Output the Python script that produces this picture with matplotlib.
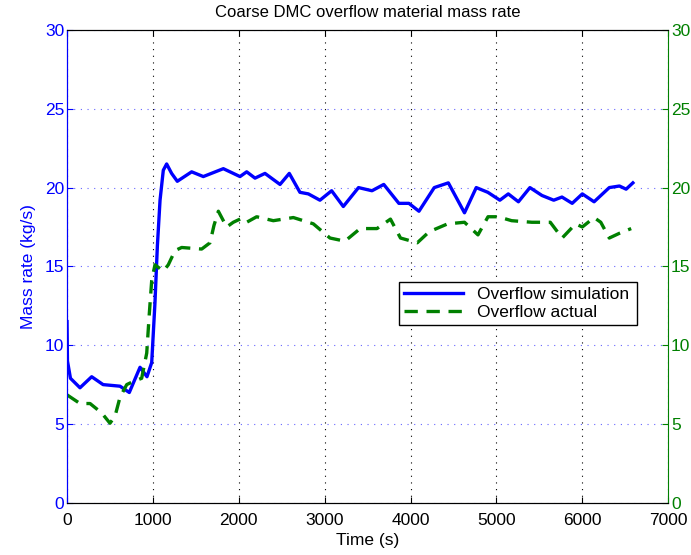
import matplotlib
matplotlib.use("Agg")
import matplotlib.pyplot as plt

plt.rcParams['font.family'] = ['Liberation Sans', 'DejaVu Sans']

# overflow simulation (time s, mass rate kg/s)
sim_t = [0, 5, 40, 151, 287, 420, 617, 725, 850, 931, 986, 1024, 1052, 1083, 1121, 1160,
         1218, 1284, 1451, 1587, 1820, 2014, 2092, 2189, 2305, 2480, 2588, 2712, 2810,
         2945, 3081, 3217, 3394, 3551, 3688, 3864, 3981, 4098, 4276, 4440, 4628, 4765,
         4900, 5040, 5138, 5256, 5390, 5530, 5667, 5763, 5882, 6000, 6137, 6314, 6432,
         6510, 6589]
sim_v = [11.5, 9.0, 7.9, 7.3, 8.0, 7.5, 7.4, 7.0, 8.6, 8.0, 8.9, 12.7, 16.3, 19.2, 21.1, 21.5,
         20.9, 20.4, 21.0, 20.7, 21.2, 20.7, 21.0, 20.6, 20.9, 20.2, 20.9, 19.7, 19.6,
         19.2, 19.8, 18.8, 20.0, 19.8, 20.2, 19.0, 19.0, 18.5, 20.0, 20.3, 18.4, 20.0,
         19.7, 19.2, 19.6, 19.1, 20.0, 19.5, 19.2, 19.4, 19.0, 19.6, 19.1, 20.0, 20.1,
         19.9, 20.3]

# overflow actual
act_t = [0, 151, 268, 404, 500, 559, 617, 695, 772, 869, 928, 958, 986, 1024, 1121, 1179,
         1257, 1335, 1568, 1665, 1711, 1762, 1859, 1936, 2034, 2092, 2208, 2402, 2635,
         2868, 3062, 3236, 3413, 3609, 3766, 3883, 4079, 4217, 4432, 4628, 4785, 4902,
         5020, 5177, 5412, 5627, 5765, 5922, 6000, 6137, 6215, 6314, 6432, 6569]
act_v = [6.85, 6.3, 6.3, 5.7, 5.05, 5.5, 6.7, 7.5, 7.7, 7.9, 9.5, 12.0, 14.1, 15.1, 14.7, 15.1,
         16.0, 16.2, 16.1, 16.5, 17.6, 18.5, 17.5, 17.8, 18.05, 17.8, 18.15, 17.9, 18.1,
         17.7, 16.8, 16.6, 17.4, 17.4, 18.0, 16.8, 16.5, 17.2, 17.7, 17.8, 17.0, 18.15,
         18.15, 17.9, 17.8, 17.8, 16.8, 17.7, 17.5, 18.1, 17.8, 16.8, 17.1, 17.4]

blue = (0, 0, 1)
green = (0, 0.5, 0)

fig = plt.figure(figsize=(6.91, 5.55), dpi=100)
ax1 = fig.add_axes([0.097, 0.094, 0.87, 0.852])
ax2 = ax1.twinx()

l1, = ax1.plot(sim_t, sim_v, color=blue, lw=2.4, label='Overflow simulation')
l2, = ax2.plot(act_t, act_v, color=green, lw=2.4, dashes=(4, 2.6), label='Overflow actual')

for ax in (ax1, ax2):
    ax.set_xlim(0, 7000)
    ax.set_ylim(0, 30)
    ax.set_yticks(range(0, 31, 5))
    ax.tick_params(direction='in', length=4, labelsize=12.5)
    ax.tick_params(axis='y', pad=2)

ax1.set_xticks(range(0, 7001, 1000))
ax1.tick_params(axis='y', colors=blue)
ax1.tick_params(axis='x', top=True, colors='black', pad=7)
ax2.tick_params(axis='y', colors=green)

ax1.spines['left'].set_color(blue)
ax2.spines['left'].set_color(blue)
ax2.spines['right'].set_color(green)
ax1.spines['right'].set_visible(False)

ax1.xaxis.grid(True, linestyle=(0, (1, 5)), color='black', lw=0.8)
ax1.yaxis.grid(True, linestyle=(0, (1, 5)), color=(0.4, 0.4, 1.0), lw=0.8)

ax1.set_xlabel('Time (s)', fontsize=12.5, labelpad=4)
ax1.set_ylabel('Mass rate (kg/s)', fontsize=12.5, color=blue, labelpad=6)
ax1.set_title('Coarse DMC overflow material mass rate', fontsize=12, pad=9)

leg = ax2.legend(handles=[l1, l2], loc='lower left', bbox_to_anchor=(0.537, 0.357, 0.426, 0.115),
                 mode='expand', fontsize=12.5, handlelength=3.4, borderpad=0.3,
                 labelspacing=0.15, fancybox=False, framealpha=1)
leg.get_frame().set_edgecolor('black')
leg.get_frame().set_linewidth(1.0)

fig.savefig('out.png', dpi=100)
